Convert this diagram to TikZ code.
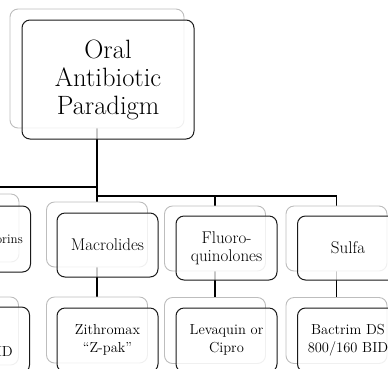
\documentclass[tikz,border=0pt]{standalone}
\usepackage{xcolor}
\usepackage{tikz}
\usetikzlibrary{positioning,calc,backgrounds}
\definecolor{framegray}{HTML}{BDBDBD}
\definecolor{boxline}{HTML}{1A1A1A}

\begin{document}
\begin{tikzpicture}[
  x=1pt, y=-1pt,
  frame/.style={draw=framegray, fill=white, rounded corners=8pt, line width=0.9pt, minimum width=101pt, minimum height=65pt, inner sep=0pt},
  box/.style={draw=boxline, fill=white, fill opacity=0.78, text opacity=1, draw opacity=1, rounded corners=8pt, line width=1pt, minimum width=101pt, minimum height=64pt, align=center, inner sep=1pt},
  link/.style={draw=black, line width=1.2pt},
  big/.style={font=\fontsize{26.5}{28}\selectfont},
  mid/.style={font=\fontsize{17}{18.5}\selectfont},
  small/.style={font=\fontsize{14.5}{18.5}\selectfont}
]
\useasboundingbox (0,0) rectangle (388,368);
\clip (0,0) rectangle (388,368);

\coordinate (busL) at (0,187);
\coordinate (busR) at (0,196);

\node[frame, minimum width=174pt, minimum height=119pt] (root) at (97,68.5) {};
\node[box, big, minimum width=172pt, minimum height=119pt] (rootbox) at (108,79.5) {Oral\\Antibiotic\\Paradigm};

\node[frame, minimum height=68pt] (ceph) at (-31.5,228) {};
\node[frame] (mac) at (97,234.5) {};
\node[frame] (fluoro) at (215,238.5) {};
\node[frame] (sulfa) at (336.5,238.5) {};

\node[box, minimum height=66pt] (cephbox) at (-20,239) {};
\node[box, mid] (macbox) at (107.5,245) {Macrolides};
\node[box, mid] (fluorobox) at (226.5,248) {Fluoro-\\quinolones};
\node[box, mid] (sulfabox) at (348,248) {Sulfa};
\node[font=\fontsize{13}{15}\selectfont, anchor=east, inner sep=0pt] (cephtext) at (23,239) {orins};

\node[frame, minimum height=68pt] (cephkid) at (-32,331) {};
\node[frame, minimum height=66pt] (mackid) at (97,330) {};
\node[frame, minimum height=66pt] (fluorokid) at (215,330.5) {};
\node[frame, minimum height=66pt] (sulfakid) at (336.5,330.5) {};

\node[box, minimum height=66pt] (cephkidbox) at (-21,340) {};
\node[box, small] (mackidbox) at (107.5,340) {Zithromax\\``Z-pak''};
\node[box, small] (fluorokidbox) at (226.5,340) {Levaquin or\\Cipro};
\node[box, small] (sulfakidbox) at (348,340) {Bactrim DS\\800/160 BID};
\node[small, anchor=east, inner sep=0pt] (cephkidtext) at (13,352) {ID};

\begin{scope}[on background layer]
\draw[link] (root.south) -- (mac.north);
\draw[link] (root.south |- busL) -| (ceph.north);
\draw[link] (root.south |- busR) -| (fluoro.north);
\draw[link] (root.south |- busR) -| (sulfa.north);
\draw[link] (mac.south) -- (mackid.north);
\draw[link] (fluoro.south) -- (fluorokid.north);
\draw[link] (sulfa.south) -- (sulfakid.north);
\end{scope}
\end{tikzpicture}
\end{document}
